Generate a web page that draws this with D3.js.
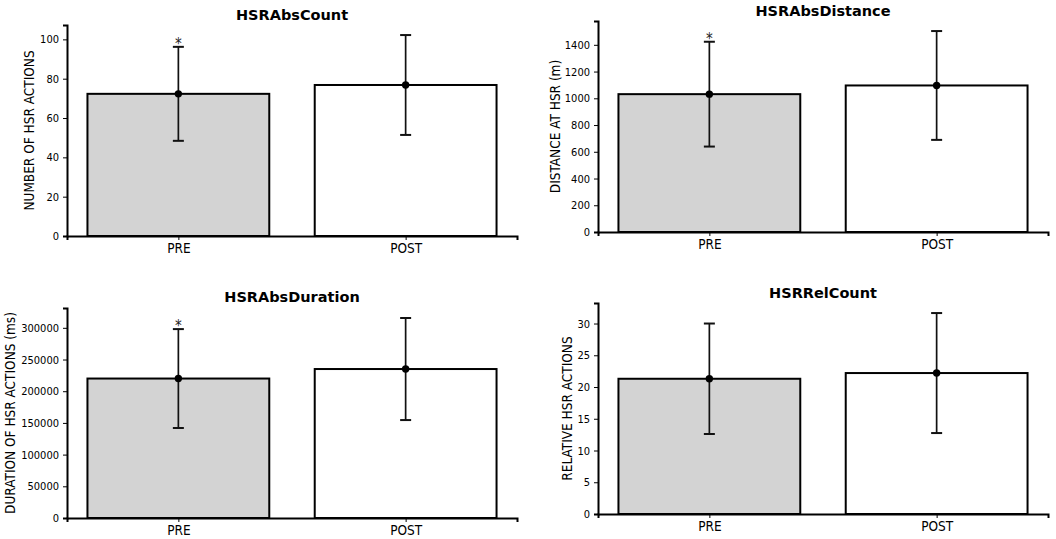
<!DOCTYPE html>
<html>
<head>
<meta charset="utf-8">
<title>HSR pre/post</title>
<script src="https://cdn.jsdelivr.net/npm/d3@7"></script>
<style>
  body { margin: 0; background: #fff; }
  text { font-family: "DejaVu Sans Condensed", "DejaVu Sans", sans-serif; font-stretch: condensed; fill: #000; }
  .tick text { font-size: 11px; }
  .xax .tick text { font-size: 13.5px; }
  .title { font-family: "DejaVu Sans", sans-serif; font-stretch: normal; font-size: 14.5px; font-weight: bold; }
  .ylab { font-size: 13.5px; }
</style>
</head>
<body>
<svg id="canvas" width="1056" height="539"></svg>
<script>
// data
var categories = ["PRE", "POST"];
var titles = ["HSRAbsCount", "HSRAbsDistance", "HSRAbsDuration", "HSRRelCount"];
var yLabels = ["NUMBER OF HSR ACTIONS", "DISTANCE AT HSR (m)", "DURATION OF HSR ACTIONS (ms)", "RELATIVE HSR ACTIONS"];
var means = [[72.3, 76.8], [1031, 1096], [220000, 235000], [21.3, 22.2]];
var sds = [[23.9, 25.4], [392, 407], [78000, 80500], [8.7, 9.45]];
var yTicks = [
    [0, 20, 40, 60, 80, 100],
    [0, 200, 400, 600, 800, 1000, 1200, 1400],
    [0, 50000, 100000, 150000, 200000, 250000, 300000],
    [0, 5, 10, 15, 20, 25, 30]
];
var starred = [true, true, true, false];   // "*" above PRE
var fills = ["#d3d3d3", "#ffffff"];

// panel boxes (layout)
var boxes = [
    {left: 67,  right: 517,  top: 25,  bottom: 236, labX: 29,  titleY: 20},
    {left: 598, right: 1048, top: 21,  bottom: 232, labX: 555, titleY: 16},
    {left: 67,  right: 517,  top: 308, bottom: 518, labX: 10,  titleY: 302},
    {left: 598, right: 1048, top: 303, bottom: 514, labX: 567, titleY: 298}
];

var svg = d3.select("#canvas");

titles.forEach(function(title, i) {
    var b = boxes[i];
    var width = b.right - b.left;
    var height = b.bottom - b.top;
    var g = svg.append("g")
        .attr("transform", "translate(" + b.left + "," + b.top + ")");

    // matplotlib-like limits: bars at 0,1 width 0.8, 5% margins
    var x = d3.scaleLinear().domain([-0.49, 1.49]).range([0, width]);
    var yMax = d3.max(means[i], function(m, j) { return m + sds[i][j]; }) * 1.05;
    var y = d3.scaleLinear().domain([0, yMax]).range([height, 0]);

    var rows = categories.map(function(c, j) {
        return {cat: c, idx: j, mean: means[i][j], sd: sds[i][j]};
    });

    // bars
    g.selectAll("rect.bar").data(rows).enter().append("rect")
        .attr("class", "bar")
        .attr("x", function(d) { return x(d.idx - 0.4); })
        .attr("width", function(d) { return x(d.idx + 0.4) - x(d.idx - 0.4); })
        .attr("y", function(d) { return y(d.mean); })
        .attr("height", function(d) { return y(0) - y(d.mean); })
        .attr("fill", function(d) { return fills[d.idx]; })
        .attr("stroke", "#000")
        .attr("stroke-width", 2);

    // error bars
    var eb = g.selectAll("g.err").data(rows).enter().append("g").attr("class", "err");
    eb.append("line")
        .attr("x1", function(d) { return x(d.idx); })
        .attr("x2", function(d) { return x(d.idx); })
        .attr("y1", function(d) { return y(d.mean - d.sd); })
        .attr("y2", function(d) { return y(d.mean + d.sd); })
        .attr("stroke", "#111").attr("stroke-width", 1.7);
    [-1, 1].forEach(function(s) {
        eb.append("line")
            .attr("x1", function(d) { return x(d.idx) - 5.5; })
            .attr("x2", function(d) { return x(d.idx) + 5.5; })
            .attr("y1", function(d) { return y(d.mean + s * d.sd); })
            .attr("y2", function(d) { return y(d.mean + s * d.sd); })
            .attr("stroke", "#111").attr("stroke-width", 2);
    });
    eb.append("circle")
        .attr("cx", function(d) { return x(d.idx); })
        .attr("cy", function(d) { return y(d.mean); })
        .attr("r", 3.7)
        .attr("fill", "#000");

    // significance mark
    if (starred[i]) {
        g.append("text")
            .attr("x", x(0))
            .attr("y", y(rows[0].mean + rows[0].sd) + 2)
            .attr("text-anchor", "middle")
            .style("font-size", "15px")
            .style("fill", "#222")
            .text("*");
    }

    // axes
    var yAxis = g.append("g")
        .call(d3.axisLeft(y).tickValues(yTicks[i]).tickFormat(d3.format("d")).tickSizeOuter(0).tickSize(4).tickPadding(4));
    var xAxis = g.append("g")
        .attr("class", "xax")
        .attr("transform", "translate(0," + height + ")")
        .call(d3.axisBottom(x).tickValues([0, 1]).tickFormat(function(d) { return categories[d]; }).tickSizeOuter(0).tickSize(4).tickPadding(3));
    [yAxis, xAxis].forEach(function(a) {
        a.select(".domain").attr("stroke", "#000").attr("stroke-width", 2);
        a.selectAll(".tick line").attr("stroke", "#000").attr("stroke-width", 1);
        a.attr("font-family", null).attr("font-size", null);
    });

    // title
    svg.append("text")
        .attr("class", "title")
        .attr("x", b.left + width / 2)
        .attr("y", b.titleY)
        .attr("text-anchor", "middle")
        .text(title);

    // y label
    svg.append("text")
        .attr("class", "ylab")
        .attr("transform", "translate(" + b.labX + "," + (b.top + height / 2) + ") rotate(-90)")
        .attr("text-anchor", "middle")
        .attr("dy", "0.35em")
        .text(yLabels[i]);
});
</script>
</body>
</html>
